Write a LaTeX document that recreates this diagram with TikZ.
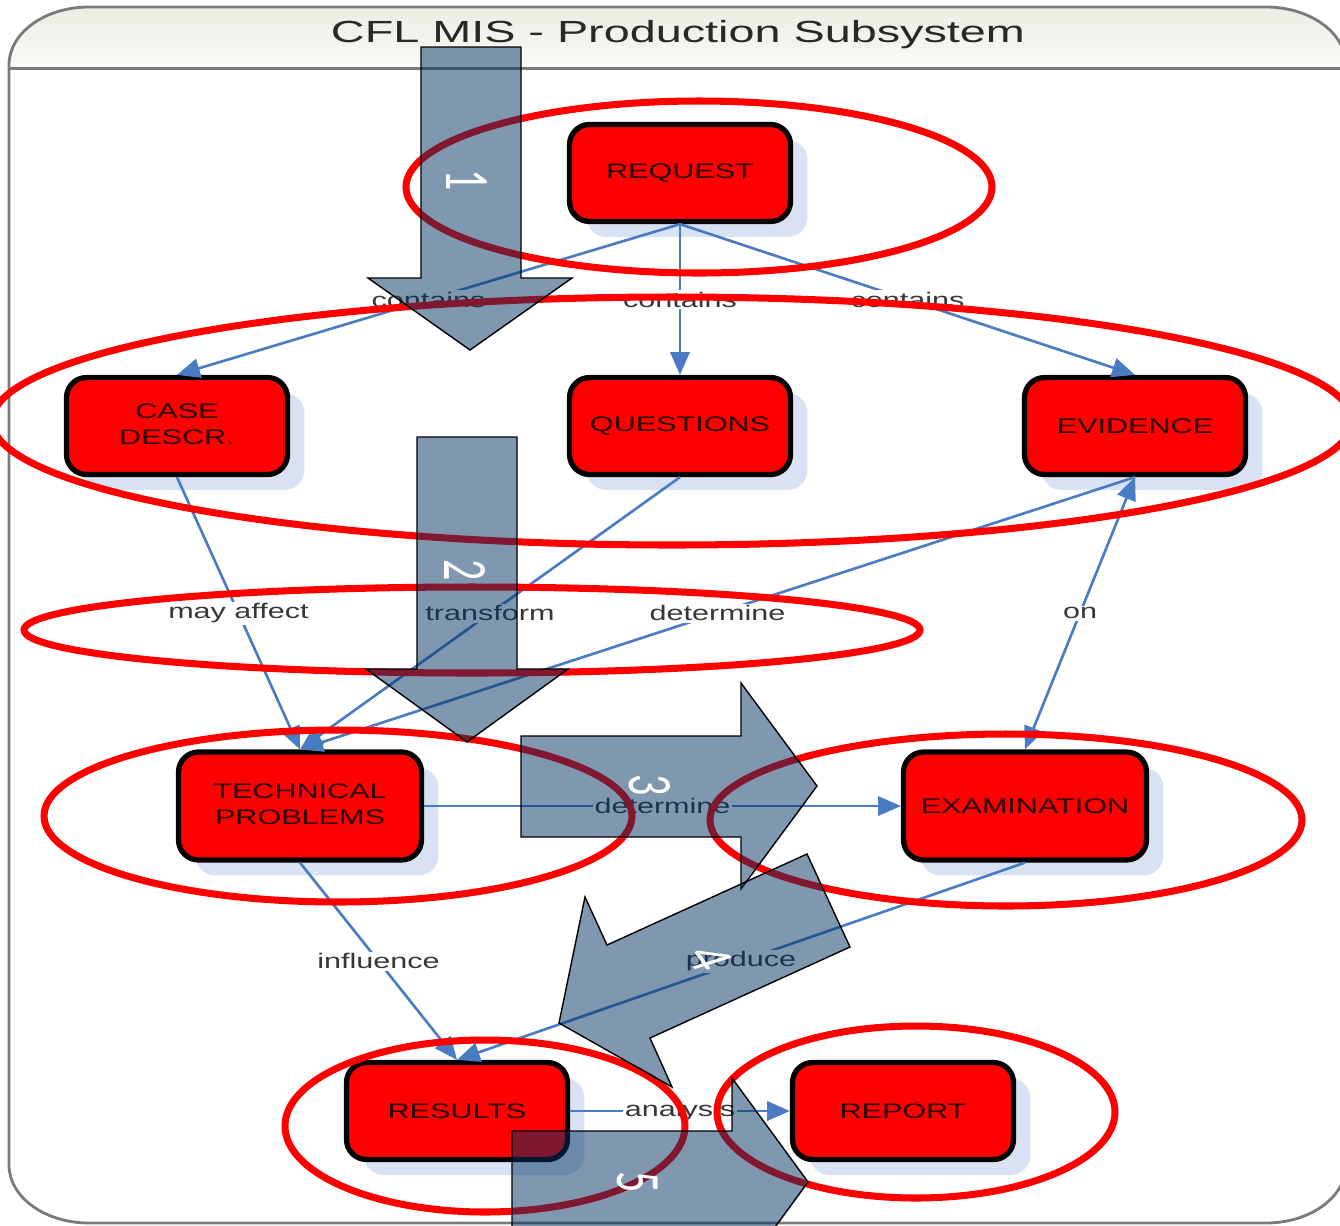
\documentclass[tikz,border=0pt]{standalone}
\usepackage{fontspec}
\setmainfont{Liberation Sans}
\newfontfamily\numfont{Carlito}
\usetikzlibrary{arrows.meta,shadows}

\definecolor{boxred}{RGB}{255,0,0}
\definecolor{boxtext}{RGB}{40,0,0}
\definecolor{shadowblue}{RGB}{216,226,242}
\definecolor{linkblue}{RGB}{74,124,196}
\definecolor{labelgray}{RGB}{55,55,55}
\definecolor{titlegray}{RGB}{40,40,40}
\definecolor{framegray}{RGB}{122,122,122}
\definecolor{titletop}{RGB}{236,236,228}
\definecolor{titlebot}{RGB}{250,250,247}
\definecolor{ringred}{RGB}{255,0,0}
\definecolor{stepfill}{RGB}{0,49,97}

% wide sans lettering
\newcommand{\hstr}[1]{\scalebox{1.45}[1]{#1}}
\newcommand{\stepnum}[1]{\scalebox{1.5}[1]{\rotatebox{-90}{#1}}}

\tikzset{
  box/.style={rectangle, rounded corners=0.4cm, draw=black, line width=3pt,
    fill=boxred, text=boxtext, minimum width=4.42cm, minimum height=1.94cm,
    inner sep=0pt, align=center, font=\fontsize{12}{14.7}\selectfont,
    drop shadow={shadow xshift=0.34cm, shadow yshift=-0.31cm, fill=shadowblue, opacity=1}},
  bigbox/.style={box, minimum width=4.86cm, minimum height=2.16cm},
  tip/.style={-{Triangle[length=13pt, width=11pt]}},
  link/.style={draw=linkblue, line width=1.5pt, tip},
  lbl/.style={fill=white, inner sep=1pt, text=labelgray,
    font=\fontsize{12}{14}\selectfont},
  ring/.style={draw=ringred, line width=4pt},
  stepbox/.style={fill=stepfill, fill opacity=0.5, draw=black, draw opacity=1,
    line width=0.8pt, line join=miter},
  stepnumber/.style={text=white, font=\numfont\fontsize{24}{24}\selectfont, inner sep=0pt}
}

\begin{document}
\begin{tikzpicture}[x=0.02cm, y=-0.02cm]
\clip (0,0) rectangle (1340,1225);
\fill[white] (0,0) rectangle (1340,1225);

% outer frame with title band
\shade[top color=titletop, bottom color=titlebot]
  (9,68) -- (9,65) arc[start angle=180, end angle=270, x radius=80, y radius=58]
  -- (1266,7) arc[start angle=270, end angle=360, x radius=80, y radius=58]
  -- (1346,68) -- cycle;
\draw[framegray, line width=1.7pt] (9,68) -- (1346,68);
\draw[framegray, line width=1.6pt]
  (89,7) -- (1266,7) arc[start angle=270, end angle=360, x radius=80, y radius=58]
  -- (1346,1165) arc[start angle=0, end angle=90, x radius=80, y radius=58]
  -- (89,1223) arc[start angle=90, end angle=180, x radius=80, y radius=58]
  -- (9,65) arc[start angle=180, end angle=270, x radius=80, y radius=58] -- cycle;
\node[text=titlegray, font=\fontsize{17.4}{20}\selectfont] (title) at (678,35)
  {\scalebox{1.53}[1]{CFL MIS - Production Subsystem}};

% entities
\node[box] (req) at (680,173) {\hstr{REQUEST}};
\node[box] (case) at (177,426) {\hstr{\begin{tabular}{@{}c@{}}CASE\\DESCR.\end{tabular}}};
\node[box] (ques) at (680,426) {\hstr{QUESTIONS}};
\node[box] (evid) at (1135,426) {\hstr{EVIDENCE}};
\node[bigbox] (tech) at (300,806) {\hstr{\begin{tabular}{@{}c@{}}TECHNICAL\\PROBLEMS\end{tabular}}};
\node[bigbox] (exam) at (1025,806) {\hstr{EXAMINATION}};
\node[box] (res) at (457,1111) {\hstr{RESULTS}};
\node[box] (rep) at (903,1111) {\hstr{REPORT}};

% relations
\draw[link] (req.south) -- node[lbl] {\hstr{contains}} (case.north);
\draw[link] (req.south) -- node[lbl] {\hstr{contains}} (ques.north);
\draw[link] (req.south) -- node[lbl] {\hstr{contains}} (evid.north);
\draw[link] (case.south) -- node[lbl] {\hstr{may affect}} (tech.north);
\draw[link] (ques.south) -- node[lbl] {\hstr{transform}} (tech.north);
\draw[link] (evid.south) -- node[lbl] {\hstr{determine}} (tech.north);
\draw[link, {Triangle[length=13pt, width=11pt]}-{Triangle[length=13pt, width=11pt]}]
  (exam.north) -- node[lbl] {\hstr{on}} (evid.south);
\draw[link] (tech.east) -- node[lbl] {\hstr{determine}} (exam.west);
\draw[link] (tech.south) -- node[lbl] {\hstr{influence}} (res.north);
\draw[link] (exam.south) -- node[lbl] {\hstr{produce}} (res.north);
\draw[link] (res.east) -- node[lbl] {\hstr{analysis}} (rep.west);

% highlight rings
\draw[ring] (699,187) ellipse [x radius=293, y radius=86];
\draw[ring] (672,421) ellipse [x radius=680, y radius=124];
\draw[ring] (472,630) ellipse [x radius=448, y radius=43];
\draw[ring] (338,816) ellipse [x radius=294, y radius=86];
\draw[ring] (1006,820) ellipse [x radius=296, y radius=86];
\draw[ring] (485,1126) ellipse [x radius=200, y radius=86];
\draw[ring] (916,1112) ellipse [x radius=199, y radius=86];

% numbered process arrows
\draw[stepbox] (421,47) -- (521,47) -- (521,278) -- (572,278) -- (470,350)
  -- (368,278) -- (421,278) -- cycle;
\draw[stepbox] (417,437) -- (517,437) -- (517,669) -- (568,669) -- (467,742)
  -- (366,669) -- (417,669) -- cycle;
\draw[stepbox] (521,736) -- (741,736) -- (741,683) -- (817,786) -- (741,889)
  -- (741,837) -- (521,837) -- cycle;
\draw[stepbox] (807,854) -- (850,947) -- (650,1038) -- (672,1087) -- (559,1023)
  -- (585,897) -- (607,945) -- cycle;
\draw[stepbox] (512,1131) -- (732,1131) -- (732,1078) -- (808,1182) -- (732,1286)
  -- (732,1233) -- (512,1233) -- cycle;

\node[stepnumber] (n1) at (467,180) {\stepnum{1}};
\node[stepnumber] (n2) at (465,570) {\stepnum{2}};
\node[stepnumber] (n3) at (650,785) {\stepnum{3}};
\node[stepnumber] (n4) at (710,958) {\scalebox{1.5}[1]{\rotatebox{-65}{4}}};
\node[stepnumber] (n5) at (638,1182) {\stepnum{5}};
\end{tikzpicture}
\end{document}
